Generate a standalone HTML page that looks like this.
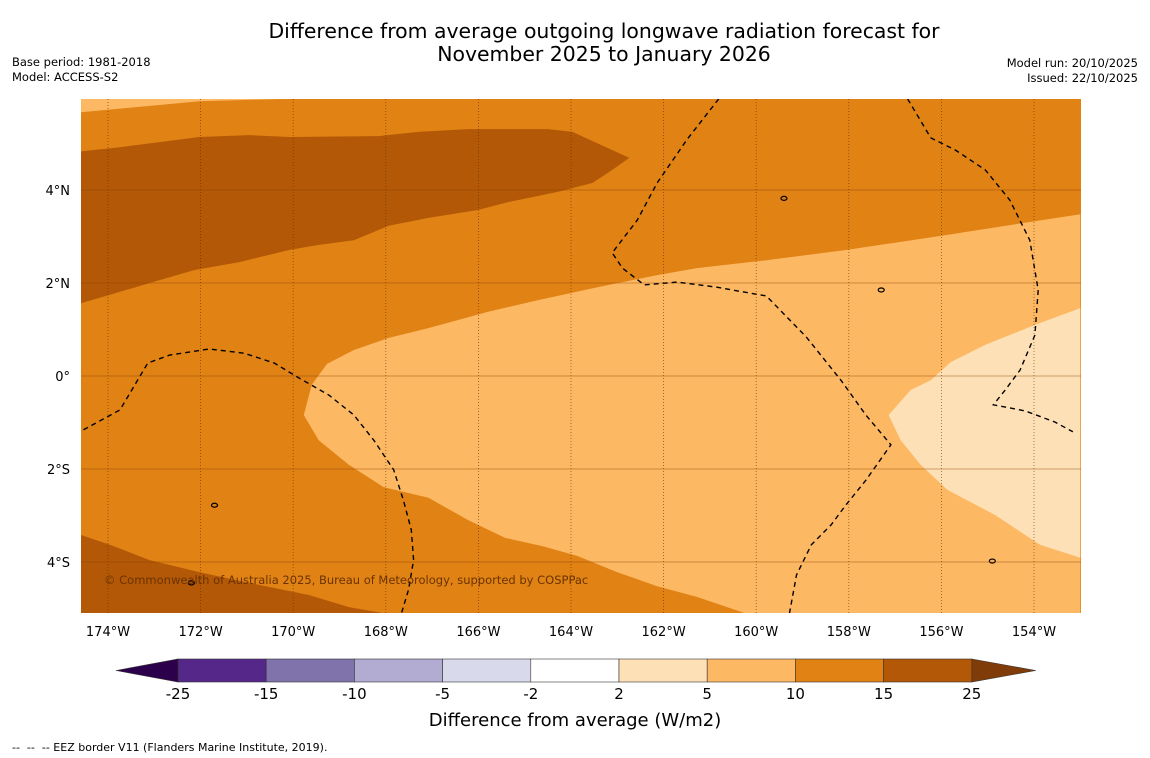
<!DOCTYPE html>
<html><head><meta charset="utf-8"><style>
body{margin:0;background:#fff;width:1150px;height:758px;overflow:hidden;font-family:"DejaVu Sans","Liberation Sans",sans-serif}
svg{display:block}
</style></head><body>
<svg id="chart" width="1150" height="758" font-family="DejaVu Sans, Liberation Sans, sans-serif">
<text x="604" y="38" text-anchor="middle" font-size="20.4">Difference from average outgoing longwave radiation forecast for</text>
<text x="604" y="61" text-anchor="middle" font-size="20.4">November 2025 to January 2026</text>
<text x="12" y="66" font-size="11.5">Base period: 1981-2018</text>
<text x="12" y="81" font-size="11.5">Model: ACCESS-S2</text>
<text x="1138" y="67" font-size="11.5" text-anchor="end">Model run: 20/10/2025</text>
<text x="1138" y="82" font-size="11.5" text-anchor="end">Issued: 22/10/2025</text>
<defs><clipPath id="mapclip"><rect x="81" y="99" width="1000" height="514"/></clipPath></defs>
<g id="map" clip-path="url(#mapclip)"></g>
<g id="grid"></g>
<g id="eez" clip-path="url(#mapclip)"></g>
<text x="104" y="584" font-size="11.5" fill="#6b3300">© Commonwealth of Australia 2025, Bureau of Meteorology, supported by COSPPac</text>
<g id="axes"></g>
<g id="cbar"></g>
<text x="575" y="726" text-anchor="middle" font-size="18">Difference from average (W/m2)</text>
<text x="12" y="751" font-size="11">-- &nbsp;-- &nbsp;-- EEZ border V11 (Flanders Marine Institute, 2019).</text>
</svg>
<script>
const lonTicks=[-174,-172,-170,-168,-166,-164,-162,-160,-158,-156,-154];
const latTicks=[4,2,0,-2,-4];
const cbLevels=[-25,-15,-10,-5,-2,2,5,10,15,25];
const cbColors=["#542788","#8073ac","#b2abd2","#d8daeb","#ffffff","#fee0b6","#fdb863","#e08214","#b35806"];
const cbUnder="#2d004b", cbOver="#7f3b08";
const lightRegion=[[-153.0,3.48],[-155.91,3.03],[-158.06,2.71],[-159.78,2.49],[-161.28,2.32],[-162.14,2.17],[-163.43,1.91],[-164.72,1.63],[-165.79,1.38],[-167.08,1.03],[-167.94,0.82],[-168.69,0.56],[-169.27,0.26],[-169.6,-0.19],[-169.77,-0.84],[-169.45,-1.38],[-168.8,-1.91],[-168.05,-2.39],[-167.08,-2.62],[-166.22,-3.1],[-165.43,-3.48],[-164.61,-3.66],[-163.86,-3.87],[-163,-4.22],[-162.14,-4.52],[-161.28,-4.75],[-160.25,-5.1],[-153.0,-5.1]];
const paleRegion=[[-153.0,1.46],[-153.98,1.1],[-155.05,0.67],[-155.8,0.3],[-156.23,-0.09],[-156.66,-0.3],[-157.14,-0.84],[-156.88,-1.38],[-156.45,-1.91],[-155.87,-2.45],[-154.84,-2.99],[-153.87,-3.63],[-153.0,-3.91]];
const darkTop=[[-174.7,4.82],[-173.74,4.92],[-172.02,5.14],[-170.95,5.18],[-170.09,5.14],[-168.16,5.16],[-167.3,5.25],[-166.22,5.31],[-164.5,5.31],[-163.97,5.25],[-162.74,4.69],[-163.17,4.39],[-163.54,4.15],[-164.29,3.96],[-165.36,3.74],[-166.01,3.57],[-167.08,3.4],[-167.94,3.23],[-168.69,2.92],[-169.45,2.82],[-170.09,2.71],[-171.16,2.45],[-172.13,2.28],[-173.1,2.0],[-174.7,1.53]];
const lightSliver=[[-174.7,5.96],[-170.09,5.96],[-172.02,5.91],[-174.7,5.66]];
const darkBottom=[[-174.7,-3.38],[-173.96,-3.63],[-173.1,-3.96],[-172.02,-4.22],[-170.95,-4.45],[-169.66,-4.71],[-168.8,-4.97],[-168.05,-5.1],[-174.7,-5.1]];
const eez1=[[-174.7,-1.25],[-173.74,-0.73],[-173.14,0.28],[-172.67,0.45],[-171.81,0.58],[-171.06,0.49],[-170.41,0.28],[-169.88,-0.04],[-169.23,-0.41],[-168.69,-0.84],[-168.26,-1.38],[-167.83,-2.02],[-167.62,-2.67],[-167.45,-3.31],[-167.4,-3.96],[-167.51,-4.6],[-167.66,-5.1]];
const eez2=[[-160.81,5.96],[-161.5,5.08],[-162.14,4.15],[-162.57,3.35],[-163.11,2.65],[-162.89,2.32],[-162.42,1.96],[-161.71,2.02],[-160.85,1.91],[-159.78,1.72],[-158.92,0.84],[-158.17,-0.09],[-157.63,-0.84],[-157.09,-1.48],[-157.63,-2.24],[-158.06,-2.77],[-158.38,-3.2],[-158.81,-3.63],[-159.13,-4.28],[-159.28,-5.1]];
const eez3=[[-156.73,5.96],[-156.23,5.12],[-155.7,4.86],[-155.05,4.43],[-154.52,3.78],[-154.09,2.92],[-153.91,1.85],[-153.98,0.88],[-154.3,0.13],[-154.62,-0.3],[-154.88,-0.62],[-154.19,-0.75],[-153.55,-0.99],[-153.16,-1.2]];
const islands=[[-159.4,3.82],[-157.3,1.85],[-171.7,-2.78],[-172.2,-4.45],[-154.9,-3.98]];

const NS="http://www.w3.org/2000/svg";
const X=lon=>108+(lon+174)*46.3;
const Y=lat=>376-lat*46.5;
function mk(tag,attrs,parent){const e=document.createElementNS(NS,tag);for(const k in attrs)e.setAttribute(k,attrs[k]);parent.appendChild(e);return e;}
const pts=a=>a.map(p=>X(p[0]).toFixed(1)+","+Y(p[1]).toFixed(1)).join(" ");
const map=document.getElementById("map");
let r=mk("rect",{x:81,y:99,width:1000,height:514,fill:"#e08214"},map);


const layers=[[lightRegion,"#fdb863","light-orange-region"],[paleRegion,"#fee0b6","pale-region"],[darkTop,"#b35806","dark-region-north"],[lightSliver,"#fdb863","light-sliver-north"],[darkBottom,"#b35806","dark-region-south"]];
layers.forEach(l=>{const p=mk("polygon",{points:pts(l[0]),fill:l[1]},map);

});
islands.forEach(i=>{const e=mk("ellipse",{cx:X(i[0]),cy:Y(i[1]),rx:3,ry:2,fill:"none",stroke:"#000","stroke-width":1.2},map);

});
const grid=document.getElementById("grid"),axes=document.getElementById("axes");
lonTicks.forEach(t=>{const l=mk("line",{x1:X(t),x2:X(t),y1:99,y2:613,stroke:"#5a2d00","stroke-width":0.8,"stroke-dasharray":"1,2","opacity":0.7},grid);


const tx=mk("text",{x:X(t),y:636,"text-anchor":"middle","font-size":13},axes);tx.textContent=Math.abs(t)+"°W";

});
latTicks.forEach(t=>{const l=mk("line",{x1:81,x2:1081,y1:Y(t),y2:Y(t),stroke:"#8a4000","stroke-width":0.7,opacity:0.55},grid);


const tx=mk("text",{x:70,y:Y(t)+5,"text-anchor":"end","font-size":13},axes);tx.textContent=t===0?"0°":Math.abs(t)+"°"+(t>0?"N":"S");

});
const eez=document.getElementById("eez");
[eez1,eez2,eez3].forEach(a=>{const p=mk("polyline",{points:pts(a),fill:"none",stroke:"#000","stroke-width":1.4,"stroke-dasharray":"5,4"},eez);

});
const cb=document.getElementById("cbar");
const cbX0=178,cbW=88.2,cbY=659,cbH=23;
const CX=i=>cbX0+i*cbW;
cbColors.forEach((c,i)=>{const b=mk("rect",{x:CX(i),y:cbY,width:cbW,height:cbH,fill:c,stroke:"#333","stroke-width":0.6},cb);

});
let tri=mk("polygon",{points:`116,${cbY+cbH/2} ${cbX0},${cbY} ${cbX0},${cbY+cbH}`,fill:cbUnder,stroke:"#333","stroke-width":0.6},cb);


const xe=CX(cbColors.length);
tri=mk("polygon",{points:`${xe},${cbY} ${xe+64},${cbY+cbH/2} ${xe},${cbY+cbH}`,fill:cbOver,stroke:"#333","stroke-width":0.6},cb);


cbLevels.forEach((v,i)=>{const t=mk("text",{x:CX(i),y:699,"text-anchor":"middle","font-size":15},cb);t.textContent=v;

});
</script>
</body></html>
